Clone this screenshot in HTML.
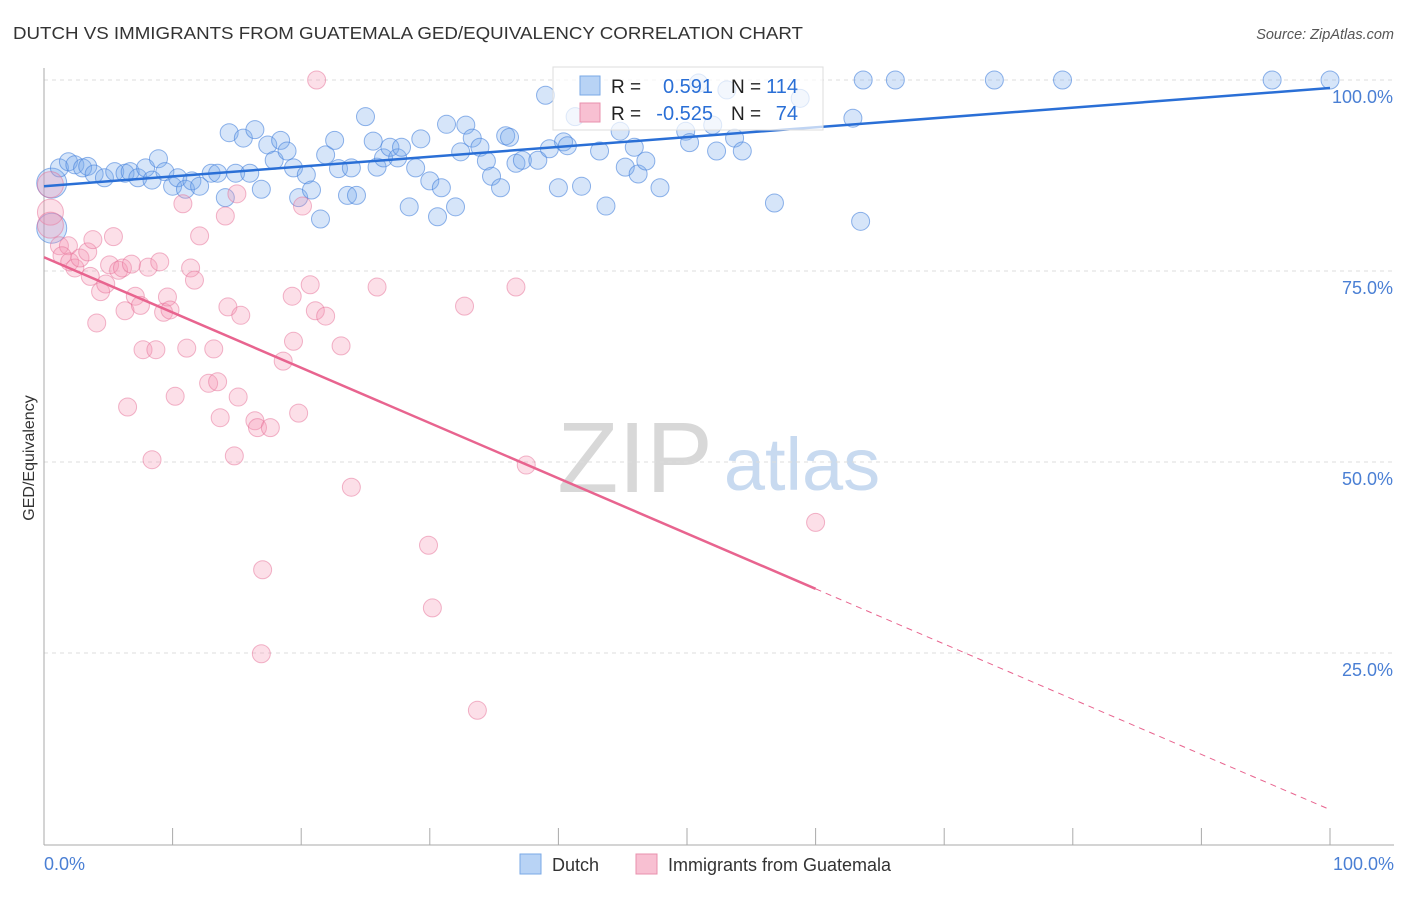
<!DOCTYPE html>
<html><head><meta charset="utf-8"><style>
body{margin:0;background:#fff;font-family:"Liberation Sans",sans-serif}
svg text{font-family:"Liberation Sans",sans-serif}
</style></head><body>
<svg width="1406" height="892" id="c">
<text x="13" y="39" font-size="17.5" fill="#333" textLength="790" lengthAdjust="spacingAndGlyphs">DUTCH VS IMMIGRANTS FROM GUATEMALA GED/EQUIVALENCY CORRELATION CHART</text>
<text x="1394" y="39" font-size="14.5" fill="#555" font-style="italic" text-anchor="end">Source: ZipAtlas.com</text>
<text x="0" y="0" transform="translate(34,458) rotate(-90)" font-size="16" fill="#333" text-anchor="middle">GED/Equivalency</text>
<g><text x="635" y="492" font-size="100" fill="#d8d8d8" font-family="Liberation Serif" text-anchor="middle">ZIP</text><text x="802" y="490" font-size="74" fill="#c8daf0" text-anchor="middle">atlas</text></g>
<g id="grid"></g><g id="axes"></g><g id="pts"></g><g id="lines"></g>
<g>
<rect x="553" y="67" width="270" height="63" fill="#fff" fill-opacity="0.7" stroke="#ddd"/>
<rect x="580" y="76" width="20" height="19" fill="#b8d3f5" stroke="#7aa8e6"/>
<rect x="580" y="103" width="20" height="19" fill="#f8c0d2" stroke="#e890ad"/>
<text x="611" y="93" font-size="19" fill="#222">R =</text><text x="713" y="93" font-size="20" fill="#2a6fd6" text-anchor="end">0.591</text>
<text x="731" y="93" font-size="19" fill="#222">N =</text><text x="798" y="93" font-size="20" fill="#2a6fd6" text-anchor="end">114</text>
<text x="611" y="120" font-size="19" fill="#222">R =</text><text x="713" y="120" font-size="20" fill="#2a6fd6" text-anchor="end">-0.525</text>
<text x="731" y="120" font-size="19" fill="#222">N =</text><text x="798" y="120" font-size="20" fill="#2a6fd6" text-anchor="end">74</text>
</g>
<g>
<rect x="520" y="854" width="21" height="20" fill="#b8d3f5" stroke="#7aa8e6"/>
<text x="552" y="871" font-size="18" fill="#333">Dutch</text>
<rect x="636" y="854" width="21" height="20" fill="#f8c0d2" stroke="#e890ad"/>
<text x="668" y="871" font-size="18" fill="#333">Immigrants from Guatemala</text>
</g>
</svg>
<script>
const blueX=[0.6,0.6,1.2,1.9,2.4,3.0,3.4,3.9,4.7,5.5,6.3,6.7,7.3,7.9,8.4,8.9,9.4,10.0,10.4,11.0,11.5,12.1,13.0,13.5,14.1,14.4,14.9,15.5,16.0,16.4,16.9,17.4,17.9,18.4,18.9,19.4,19.8,20.4,20.8,21.5,21.9,22.6,22.9,23.6,23.9,24.3,25.0,25.6,25.9,26.4,26.9,27.5,27.8,28.4,28.9,29.3,30.0,30.6,30.9,31.3,32.0,32.4,32.8,33.3,33.9,34.4,34.8,35.5,35.9,36.2,36.7,37.2,38.4,39.0,39.3,40.0,40.4,40.7,41.3,41.8,43.2,43.7,44.8,45.2,45.9,46.2,46.8,47.9,49.9,50.2,50.9,52.0,52.3,53.1,53.7,54.3,56.8,58.8,62.9,63.5,63.7,66.2,73.9,79.2,95.5,100];
const blueY=[86.5,80.6,88.5,89.3,88.9,88.5,88.7,87.7,87.2,88.0,87.8,88.0,87.2,88.5,86.9,89.7,88.0,86.1,87.2,85.7,86.8,86.1,87.8,87.8,84.6,93.1,87.8,92.4,87.8,93.5,85.7,91.5,89.5,92.1,90.7,88.5,84.6,87.6,85.6,81.8,90.2,92.1,88.4,84.9,88.5,84.9,95.2,92.0,88.6,89.8,91.2,89.8,91.2,83.4,88.5,92.3,86.8,82.1,85.9,94.2,83.4,90.6,94.1,92.4,91.2,89.4,87.4,85.9,92.7,92.5,89.1,89.5,89.5,98.0,91.0,85.9,91.9,91.4,95.2,86.1,90.7,83.5,93.3,88.6,91.2,87.7,89.4,85.9,93.3,91.8,99.6,94.1,90.7,98.7,92.4,90.7,83.9,97.6,95.0,81.5,100,100,100,100,100,100];
const pinkX=[21.2,0.5,0.5,0.5,1.2,1.9,1.4,2.0,2.4,2.8,3.4,3.8,3.6,4.1,4.4,4.8,5.1,5.4,5.8,6.1,6.3,6.5,6.8,7.1,7.5,7.7,8.1,8.4,8.7,9.0,9.3,9.6,9.8,10.2,10.8,11.1,11.4,11.7,12.1,12.8,13.2,13.5,13.7,14.1,14.3,14.8,15.0,15.1,15.3,16.4,16.6,16.9,17.0,17.6,18.6,19.3,19.4,19.8,20.1,20.7,21.1,21.9,23.1,23.9,25.9,29.9,30.2,32.7,33.7,36.7,37.5,60.0];
const pinkY=[100,86.3,82.7,81.0,78.3,78.3,77.0,76.2,75.4,76.7,77.5,79.1,74.3,68.2,72.3,73.3,75.8,79.5,75.1,75.4,69.8,57.2,75.9,71.7,70.5,64.7,75.5,50.3,64.7,76.2,69.6,71.6,69.9,58.6,83.8,64.9,75.4,73.8,79.6,60.3,64.8,60.5,55.8,82.2,70.3,50.8,85.1,58.5,69.2,55.4,54.5,24.9,35.9,54.5,63.2,71.7,65.8,56.4,83.5,73.2,69.8,69.1,65.2,46.7,72.9,39.1,30.9,70.4,17.5,72.9,49.6,42.1];
const bigIdx=[0,1];
const yTicks=[25,50,75,100];
const yTickLabels=["25.0%","50.0%","75.0%","100.0%"];
const blueTrend=[[0,86.1],[100,98.95]];
const pinkTrend=[[0,76.8],[60,33.4],[100,4.5]];
const sx=v=>44+v*12.86, sy=v=>844-v*7.64;
const NS="http://www.w3.org/2000/svg";
function mk(t,a,p){const e=document.createElementNS(NS,t);for(const k in a)e.setAttribute(k,a[k]);p.appendChild(e);return e;}
const grid=document.getElementById('grid'),axes=document.getElementById('axes'),pts=document.getElementById('pts'),lines=document.getElementById('lines');
yTicks.forEach((t,i)=>{
 const l=mk('line',{x1:44,x2:1394,y1:sy(t),y2:sy(t),stroke:'#ddd','stroke-dasharray':'4,4'},grid);
 
 
 const tx=mk('text',{x:1393,y:sy(t)+23,'font-size':18,fill:'#4a7fd4','text-anchor':'end'},axes);tx.textContent=yTickLabels[i];
 
 
});
mk('line',{x1:44,x2:44,y1:68,y2:845,stroke:'#aaa'},axes);
mk('line',{x1:44,x2:1394,y1:845,y2:845,stroke:'#aaa'},axes);
for(let i=0;i<=10;i++){const t=mk('line',{x1:sx(i*10),x2:sx(i*10),y1:828,y2:845,stroke:'#aaa'},axes);
 
 }
const x0=mk('text',{x:44,y:870,'font-size':18,fill:'#4a7fd4'},axes);x0.textContent='0.0%';


const x1=mk('text',{x:1394,y:870,'font-size':18,fill:'#4a7fd4','text-anchor':'end'},axes);x1.textContent='100.0%';


blueX.forEach((v,i)=>{const c=mk('circle',{cx:sx(v),cy:sy(blueY[i]),r:bigIdx.includes(i)?15:9,fill:'rgba(120,170,235,0.3)',stroke:'rgba(70,130,220,0.6)','stroke-width':1},pts);
 
 });
pinkX.forEach((v,i)=>{const c=mk('circle',{cx:sx(v),cy:sy(pinkY[i]),r:(i>=1&&i<=3)?13:9,fill:'rgba(245,150,180,0.3)',stroke:'rgba(230,110,150,0.5)','stroke-width':1},pts);
 
 });
const bl=mk('line',{x1:sx(blueTrend[0][0]),y1:sy(blueTrend[0][1]),x2:sx(blueTrend[1][0]),y2:sy(blueTrend[1][1]),stroke:'#2a6fd6','stroke-width':2.5},lines);


const pl=mk('line',{x1:sx(pinkTrend[0][0]),y1:sy(pinkTrend[0][1]),x2:sx(pinkTrend[1][0]),y2:sy(pinkTrend[1][1]),stroke:'#e8648f','stroke-width':2.5},lines);


const pd=mk('line',{x1:sx(pinkTrend[1][0]),y1:sy(pinkTrend[1][1]),x2:sx(pinkTrend[2][0]),y2:sy(pinkTrend[2][1]),stroke:'#e8648f','stroke-width':1,'stroke-dasharray':'6,5'},lines);


</script>
</body></html>
